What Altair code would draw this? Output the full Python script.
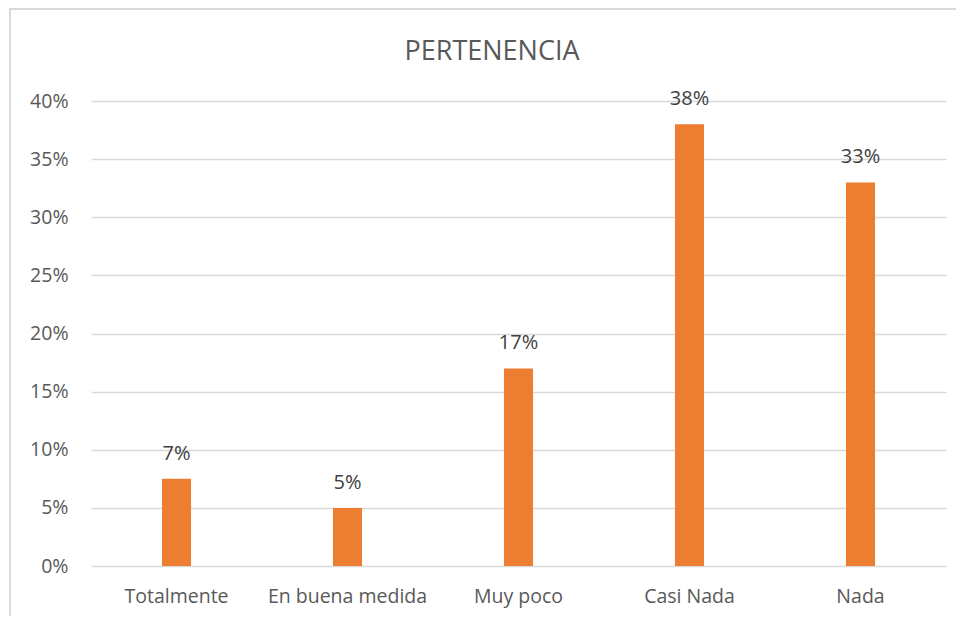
import altair as alt
import pandas as pd

categories = ["Totalmente", "En buena medida", "Muy poco", "Casi Nada", "Nada"]
values = [0.075, 0.05, 0.17, 0.38, 0.33]
labels = ["7%", "5%", "17%", "38%", "33%"]
title_text = "PERTENENCIA"

df = pd.DataFrame({"cat": categories, "val": values, "lab": labels})

FONT = "Open Sans"
GRAY = "#595959"
FS = 19.5

x = alt.X("cat:N", sort=categories, title=None,
          scale=alt.Scale(paddingInner=0.83, paddingOuter=0.415),
          axis=alt.Axis(labelAngle=0, domain=False, ticks=False, grid=False,
                        labelPadding=21, labelFontSize=FS, labelColor=GRAY, labelFont=FONT))
y = alt.Y("val:Q", title=None,
          scale=alt.Scale(domain=[0, 0.4], nice=False),
          axis=alt.Axis(format=".0%", values=[0, 0.05, 0.1, 0.15, 0.2, 0.25, 0.3, 0.35, 0.4],
                        domain=False, ticks=False, gridColor="#d9d9d9", gridWidth=1.3,
                        labelPadding=23, labelFontSize=FS, labelColor=GRAY, labelFont=FONT))

frame = alt.Chart(df).mark_rect(fillOpacity=0, stroke="#d9d9d9", strokeWidth=1.5, clip=False).encode(
    x=alt.value(-81), x2=alt.value(900), y=alt.value(-92), y2=alt.value(600)
)

title = alt.Chart(pd.DataFrame({"t": [title_text]})).mark_text(
    font=FONT, fontSize=27, color=GRAY, baseline="middle", align="center"
).encode(x=alt.value(401), y=alt.value(-49), text="t:N")

bars = alt.Chart(df).mark_bar(color="#ED7D31").encode(x=x, y=y)
text = alt.Chart(df).mark_text(baseline="middle", dy=-25, fontSize=20, color="#404040", font=FONT).encode(
    x=alt.X("cat:N", sort=categories), y="val:Q", text="lab:N"
)

chart = alt.layer(frame, bars, text, title).properties(
    width=855, height=465,
    autosize=alt.AutoSizeParams(type="none"),
    padding={"left": 83, "top": 93, "right": 10, "bottom": 50},
).configure_view(stroke=None)

chart.save("out.html", embed_options={"renderer": "svg", "actions": False})
